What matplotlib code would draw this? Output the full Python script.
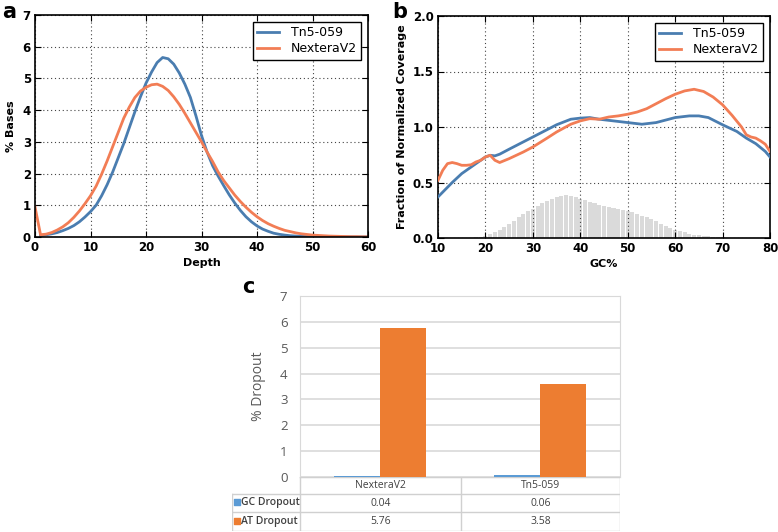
import numpy as np
import matplotlib
matplotlib.use('Agg')
import matplotlib.pyplot as plt

# panel a: depth distribution (% bases)
depth_blue = list(range(1, 61))
tn5_depth = [0.05, 0.07, 0.1, 0.14, 0.2, 0.27, 0.36, 0.48, 0.63, 0.8,
             1.0, 1.3, 1.65, 2.05, 2.5, 2.95, 3.45, 3.95, 4.42, 4.85,
             5.2, 5.5, 5.66, 5.62, 5.45, 5.17, 4.82, 4.4, 3.82, 3.2,
             2.68, 2.25, 1.92, 1.62, 1.33, 1.07, 0.84, 0.64, 0.48, 0.35,
             0.25, 0.18, 0.12, 0.085, 0.06, 0.04, 0.03, 0.02, 0.015, 0.01,
             0.008, 0.006, 0.005, 0.004, 0.003, 0.002, 0.002, 0.001, 0.001, 0.001]
depth_orange = list(range(0, 61))
nextera_depth = [0.95, 0.07, 0.09, 0.14, 0.22, 0.32, 0.45, 0.62, 0.82, 1.05, 1.3,
                 1.6, 1.98, 2.4, 2.85, 3.3, 3.75, 4.1, 4.4, 4.6, 4.72,
                 4.8, 4.82, 4.75, 4.62, 4.42, 4.18, 3.9, 3.6, 3.3, 3.0,
                 2.68, 2.38, 2.05, 1.78, 1.55, 1.32, 1.12, 0.94, 0.78, 0.64,
                 0.52, 0.42, 0.34, 0.27, 0.21, 0.17, 0.13, 0.1, 0.08, 0.06,
                 0.05, 0.04, 0.03, 0.025, 0.02, 0.015, 0.01, 0.01, 0.005, 0.005]

# panel b: GC bias
gc_blue = [10, 13, 15, 18, 20, 21, 22, 23, 25, 30, 35, 38, 40, 42, 44, 47, 50,
           53, 56, 60, 63, 65, 67, 70, 73, 75, 77, 79, 80]
tn5_gc = [0.37, 0.5, 0.58, 0.67, 0.73, 0.745, 0.74, 0.755, 0.8, 0.91, 1.02, 1.07,
          1.08, 1.085, 1.07, 1.055, 1.04, 1.025, 1.04, 1.085, 1.1, 1.1, 1.085,
          1.02, 0.96, 0.9, 0.85, 0.78, 0.73]
gc_orange = [10, 11, 12, 13, 14, 15, 16, 17, 18, 19, 20, 21, 22, 23, 25, 28, 30,
             33, 35, 38, 40, 42, 44, 46, 48, 50, 52, 54, 56, 58, 60, 62, 64, 66,
             68, 70, 72, 74, 75, 76, 77, 78, 79, 80]
nextera_gc = [0.52, 0.61, 0.67, 0.68, 0.67, 0.655, 0.655, 0.66, 0.685, 0.7, 0.73,
              0.745, 0.7, 0.68, 0.715, 0.775, 0.82, 0.9, 0.955, 1.025, 1.055,
              1.075, 1.07, 1.09, 1.1, 1.115, 1.135, 1.165, 1.21, 1.255, 1.295,
              1.325, 1.34, 1.32, 1.27, 1.2, 1.105, 1.0, 0.93, 0.91, 0.9, 0.875,
              0.845, 0.78]
gc_hist_x = list(range(18, 74))
gc_hist = [0.005, 0.01, 0.018, 0.032, 0.05, 0.07, 0.095, 0.125, 0.155, 0.185,
           0.215, 0.24, 0.265, 0.29, 0.315, 0.335, 0.355, 0.368, 0.378, 0.385,
           0.38, 0.37, 0.355, 0.34, 0.325, 0.312, 0.3, 0.29, 0.28, 0.27, 0.26,
           0.25, 0.24, 0.23, 0.215, 0.2, 0.185, 0.168, 0.15, 0.13, 0.11, 0.092,
           0.076, 0.062, 0.05, 0.04, 0.031, 0.024, 0.018, 0.014, 0.011, 0.008,
           0.006, 0.004, 0.003, 0.002]

# panel c: dropout
libraries = ['NexteraV2', 'Tn5-059']
series = ['GC Dropout', 'AT Dropout']
gc_dropout = [0.04, 0.06]
at_dropout = [5.76, 3.58]

blue = '#4a7db0'
orange = '#f27d55'
xl_blue = '#5b9bd5'
xl_orange = '#ed7d31'
gray = '#595959'

W, H = 778, 532
fig = plt.figure(figsize=(W / 100, H / 100), dpi=100)


def fx(px):
    return px / W


def fy(py):
    return 1 - py / H


def style_classic(ax):
    for s in ax.spines.values():
        s.set_color('black')
        s.set_linewidth(1.2)
    ax.grid(True, color='#444444', linestyle=(0, (1, 2.5)), linewidth=0.8)
    ax.tick_params(direction='in', length=4, width=0.8, top=True, right=True,
                   labelsize=8.5, pad=3)
    for lab in ax.get_xticklabels() + ax.get_yticklabels():
        lab.set_fontweight('bold')


def add_legend(ax):
    leg = ax.legend(loc='upper right', fontsize=9, fancybox=False, framealpha=1,
                    edgecolor='black', handlelength=1.8, borderpad=0.35,
                    labelspacing=0.25, handletextpad=0.9, borderaxespad=0.55)
    leg.get_frame().set_linewidth(1.0)


# ---- a ----
ax1 = fig.add_axes([fx(35), fy(237), fx(333), 222 / H])
ax1.plot(depth_blue, tn5_depth, color=blue, lw=2, label='Tn5-059')
ax1.plot(depth_orange, nextera_depth, color=orange, lw=2, label='NexteraV2')
ax1.set_xlim(0, 60)
ax1.set_ylim(0, 7)
ax1.set_xticks(range(0, 61, 10))
ax1.set_yticks(range(0, 8))
style_classic(ax1)
ax1.set_xlabel('Depth', fontsize=8, fontweight='bold', labelpad=3)
ax1.set_ylabel('% Bases', fontsize=8, fontweight='bold', labelpad=5)
add_legend(ax1)

# ---- b ----
ax2 = fig.add_axes([fx(438), fy(238), fx(332), 222 / H])
ax2.bar(gc_hist_x, gc_hist, width=0.85, color='#dadada', linewidth=0, zorder=1)
ax2.plot(gc_blue, tn5_gc, color=blue, lw=2, label='Tn5-059', zorder=3)
ax2.plot(gc_orange, nextera_gc, color=orange, lw=2, label='NexteraV2', zorder=3)
ax2.set_xlim(10, 80)
ax2.set_ylim(0, 2)
ax2.set_xticks(range(10, 81, 10))
ax2.set_yticks([0, 0.5, 1.0, 1.5, 2.0])
ax2.set_yticklabels(['0.0', '0.5', '1.0', '1.5', '2.0'])
style_classic(ax2)
ax2.set_xlabel('GC%', fontsize=8, fontweight='bold', labelpad=3)
ax2.set_ylabel('Fraction of Normalized Coverage', fontsize=8, fontweight='bold',
               labelpad=4)
add_legend(ax2)

# ---- c ----
ax3 = fig.add_axes([fx(300), fy(477), fx(320), 181 / H])
x = np.arange(len(libraries))
bw = 0.2875
ax3.bar(x - bw / 2, gc_dropout, width=bw, color=xl_blue, zorder=3)
ax3.bar(x + bw / 2, at_dropout, width=bw, color=xl_orange, zorder=3)
ax3.set_xlim(-0.5, len(libraries) - 0.5)
ax3.set_ylim(0, 7)
ax3.set_yticks(range(0, 8))
ax3.set_xticks([])
ax3.grid(axis='y', color='#d9d9d9', linewidth=1.2, zorder=0)
for s in ax3.spines.values():
    s.set_color('#d9d9d9')
ax3.tick_params(axis='y', length=0, labelsize=9.5, labelcolor=gray, pad=9)
for lab in ax3.get_yticklabels():
    lab.set_fontfamily('Open Sans')
ax3.set_ylabel('% Dropout', fontsize=10, color=gray, family='Open Sans',
               labelpad=10)

# data table under panel c
tb = fig.add_axes([fx(232), fy(531), fx(388), 54 / H])
tb.set_xlim(232, 620)
tb.set_ylim(531, 477)
tb.axis('off')
col_edges = [232, 300, 461, 620]
row_edges = [477, 494, 512, 531]
lc = '#d0d0d0'
tb.plot([300, 620], [477, 477], color=lc, lw=1)
for ry in row_edges[1:]:
    tb.plot([232, 620], [ry, ry], color=lc, lw=1)
tb.plot([232, 232], [494, 531], color=lc, lw=1)
for cx in col_edges[1:]:
    tb.plot([cx, cx], [477, 531], color=lc, lw=1)
tfont = dict(fontsize=7.5, color='#404040', family='Open Sans', va='center')
for j, lib in enumerate(libraries):
    cxm = (col_edges[j + 1] + col_edges[j + 2]) / 2
    tb.text(cxm, 485.5, lib, ha='center', **tfont)
rows = [gc_dropout, at_dropout]
cols = [xl_blue, xl_orange]
for i, (name, vals) in enumerate(zip(series, rows)):
    ym = (row_edges[i + 1] + row_edges[i + 2]) / 2
    tb.scatter([237], [ym - 1], marker='s', s=14, color=cols[i], clip_on=False)
    tb.text(241, ym, name, ha='left', fontweight='semibold', **tfont)
    for j, v in enumerate(vals):
        cxm = (col_edges[j + 1] + col_edges[j + 2]) / 2
        tb.text(cxm, ym, '%.2f' % v, ha='center', **tfont)

# panel letters
fig.text(fx(2), fy(12), 'a', fontsize=15, fontweight='bold', va='center')
fig.text(fx(392), fy(12), 'b', fontsize=15, fontweight='bold', va='center')
fig.text(fx(242), fy(287), 'c', fontsize=15, fontweight='bold', va='center')

fig.savefig('out.png', dpi=100)
